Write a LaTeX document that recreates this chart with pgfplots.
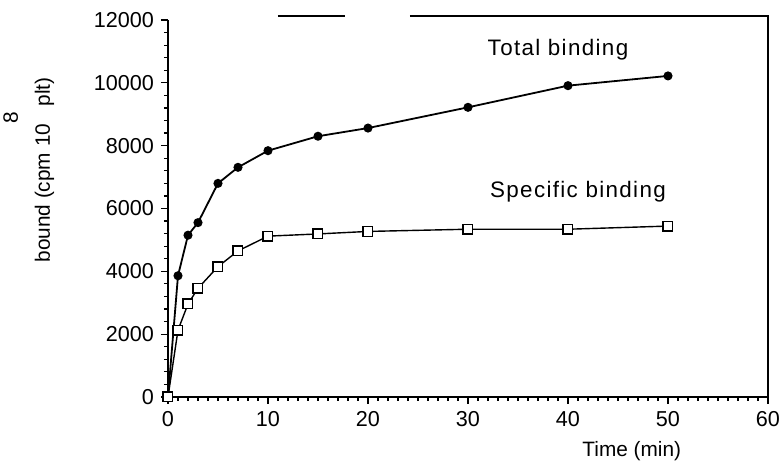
\documentclass[border=0pt]{standalone}
\usepackage{fontspec}
\setmainfont{Liberation Sans}
\newfontfamily\spaced[LetterSpace=6]{Liberation Sans}
\usepackage{pgfplots}
\pgfplotsset{compat=1.18}

\begin{document}
\begin{tikzpicture}[font=\fontsize{10.4}{12}\selectfont]
	\useasboundingbox (-84pt,-36.5pt) rectangle (308pt,198.5pt);
	\begin{axis}[
	at={(0,0)}, anchor=south west,
	scale only axis,
	width=300pt, height=188.5pt,
	xmin=0, xmax=60,
	ymin=0, ymax=12000,
	xtick={0,10,...,60},
	ytick={0,2000,...,12000},
	minor x tick num=9,
	minor y tick num=4,
	axis lines*=left,
	axis line style={line width=0.8pt},
	tick align=outside,
	major tick length=3.5pt,
	minor tick length=2pt,
	tick style={black, line width=0.6pt},
	scaled y ticks=false,
	/pgf/number format/assume math mode=true,
	/pgf/number format/set thousands separator={},
	tick label style={font=\fontsize{10.8}{12}\selectfont},
	xlabel={Time (min)},
	xlabel style={at={(axis description cs:0.773,0)}, anchor=center, yshift=-27pt},
	ylabel={bound (cpm 10\raisebox{16pt}{8} plt)},
	ylabel style={at={(axis description cs:-0.197,0.602)}, anchor=base},
	clip=false,
	]

	% total binding
	\addplot[black, line width=0.9pt, mark=*, mark size=1.8pt]
	coordinates {
(0,0)
(1,3860)
(2,5150)
(3,5550)
(5,6800)
(7,7310)
(10,7840)
(15,8300)
(20,8560)
(30,9220)
(40,9910)
(50,10220)
	};

	% specific binding
	\addplot[black, line width=0.7pt, mark=square*, mark size=2.4pt,
	mark options={fill=white, line width=0.7pt}]
	coordinates {
(0,0)
(1,2130)
(2,2960)
(3,3460)
(5,4150)
(7,4650)
(10,5120)
(15,5190)
(20,5270)
(30,5340)
(40,5340)
(50,5440)
	};

	\node[font=\fontsize{11.2}{13}\spaced] at (axis cs:39,11040) {Total binding};
	\node[font=\fontsize{11.2}{13}\spaced] at (axis cs:41,6520) {Specific binding};

	% partial frame of the scan
	\draw[line width=0.7pt] (rel axis cs:0.183,1.011) -- (rel axis cs:0.295,1.011);
	\draw[line width=0.7pt] (rel axis cs:0.403,1.011) -- (rel axis cs:1,1.011) -- (rel axis cs:1,0);
	\end{axis}
\end{tikzpicture}
\end{document}
